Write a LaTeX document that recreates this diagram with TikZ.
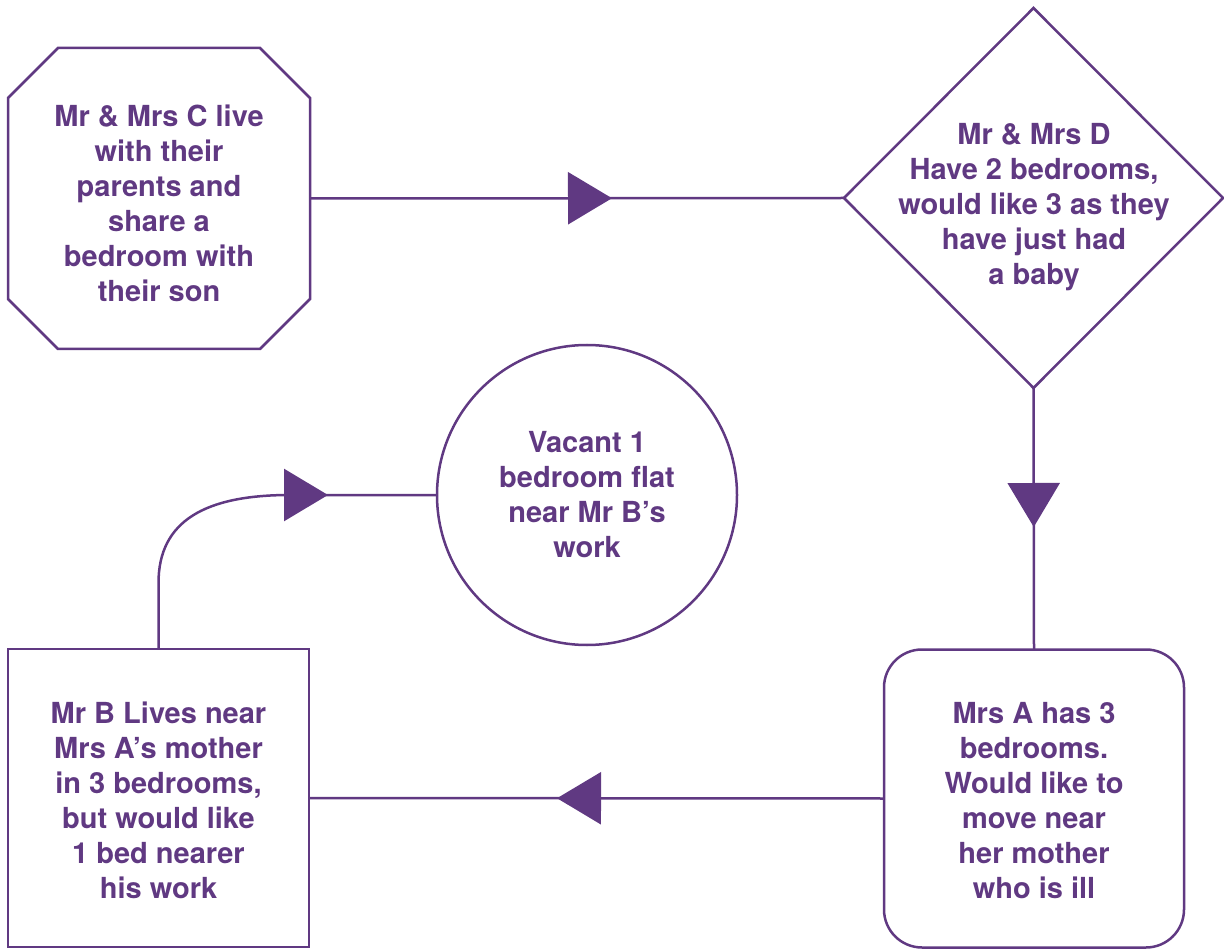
\documentclass[tikz,border=0pt]{standalone}
\usepackage{fontspec}
\setmainfont{TeX Gyre Heros}
\usetikzlibrary{shapes.geometric,arrows.meta,decorations.markings,calc}
\definecolor{pur}{RGB}{96,57,130}
\tikzset{
  shp/.style={draw=pur, line width=2.5pt, inner sep=0pt, outer sep=0pt},
  txt/.style={text=pur, align=center, font=\bfseries\fontsize{29}{35}\selectfont, inner sep=0pt},
  conn/.style={draw=pur, line width=2.5pt},
  tri/.style={postaction={decorate}, decoration={markings,
     mark=at position #1 with {\arrow{Triangle[length=44pt,width=52pt]}}}}
}
\begin{document}
\begin{tikzpicture}[x=1pt,y=-1pt]
\useasboundingbox (0,0) rectangle (1224,949);
% shapes
\node[rectangle, inner sep=0pt, outer sep=0pt, minimum width=302pt, minimum height=301pt] (C) at (159,198.5) {};
\draw[conn, line join=miter] ($(C.north west)+(50,0)$) -- ($(C.north east)+(-50,0)$)
   -- ($(C.north east)+(0,50)$) -- ($(C.south east)+(0,-50)$)
   -- ($(C.south east)+(-50,0)$) -- ($(C.south west)+(50,0)$)
   -- ($(C.south west)+(0,-50)$) -- ($(C.north west)+(0,50)$) -- cycle;
\node[shp, diamond, minimum width=379pt, minimum height=380pt] (D) at (1033.5,198) {};
\node[shp, rectangle, rounded corners=38pt, minimum width=300pt, minimum height=298pt] (A) at (1034,798.5) {};
\node[shp, rectangle, minimum width=301pt, minimum height=298pt] (B) at (158.5,798) {};
\node[shp, circle, minimum size=300pt] (V) at (587,495) {};
% texts
\node[txt] (Ct) at (159,203) {Mr \& Mrs C live\\with their\\parents and\\share a\\bedroom with\\their son};
\node[txt] (Dt) at (1034,207) {Mr \& Mrs D\\Have 2 bedrooms,\\would like 3 as they\\have just had\\a baby};
\node[txt] (At) at (1034,801) {Mrs A has 3\\bedrooms.\\Would like to\\move near\\her mother\\who is ill};
\node[txt] (Bt) at (158.5,800) {Mr B Lives near\\Mrs A’s mother\\in 3 bedrooms,\\but would like\\1 bed nearer\\his work};
\node[txt] (Vt) at (587,495) {Vacant 1\\bedroom flat\\near Mr B’s\\work};
% connectors
\draw[conn, tri=302pt] (C.east) -- (D.west);
\draw[conn, tri=139pt] (D.south) -- (A.north);
\draw[conn, tri=327pt] (A.west) -- (B.east);
\draw[conn, tri=-109pt] (B.north) -- ++(0,-66) .. controls +(0,-62) and +(-85,0) .. ($(V.west)+(-147,0)$) -- (V.west);
\end{tikzpicture}
\end{document}
